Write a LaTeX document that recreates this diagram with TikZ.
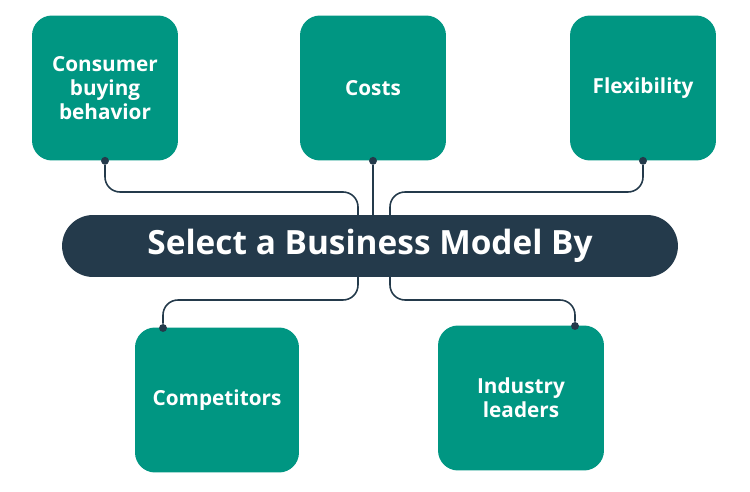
\documentclass[tikz,border=0pt]{standalone}
\usepackage{fontspec}
\setmainfont{Open Sans}
\usetikzlibrary{positioning}
\definecolor{teal1}{HTML}{009682}
\definecolor{navy1}{HTML}{243A4B}

\begin{document}
\begin{tikzpicture}[x=0.02cm,y=-0.02cm,
	box/.style={fill=teal1,rounded corners=0.4cm,minimum width=2.92cm,minimum height=2.9cm,align=center,text=white,font=\bfseries\fontsize{11.8}{13.8}\selectfont},
	link/.style={navy1,line width=0.9pt,rounded corners=0.3cm},
	dot/.style={fill=navy1,circle,inner sep=0pt,minimum size=4.5pt}]
	\useasboundingbox (0,0) rectangle (750,492);
	\node[box] (consumer) at (105,88) {\raisebox{-3pt}{Consumer}\\\raisebox{-3pt}{buying}\\\raisebox{-3pt}{behavior}};
	\node[box] (costs) at (373,88) {Costs};
	\node[box] (flex) at (643,88) {Flexibility};
	\node[box,minimum width=3.28cm] (comp) at (217,400) {Competitors};
	\node[box,minimum width=3.32cm] (ind) at (521,398) {\raisebox{-2pt}{Industry}\\\raisebox{-2pt}{leaders}};
	\node[fill=navy1,rounded corners=0.62cm,minimum width=12.32cm,minimum height=1.24cm,text=white,font=\bfseries\fontsize{19}{22}\selectfont] (title) at (370,246) {\raisebox{-3pt}{Select a Business Model By}};
	% connectors
	\coordinate (t1) at (358,215);
	\coordinate (t3) at (390,215);
	\coordinate (b1) at (358,277);
	\coordinate (b2) at (390,277);
	\node[dot] (d1) at (consumer.south) {};
	\node[dot] (d2) at (costs.south) {};
	\node[dot] (d3) at (flex.south) {};
	\node[dot] (d4) at (163,328) {};
	\node[dot] (d5) at (575,326) {};
	\draw[link] (d1) |- (358,192) -- (t1);
	\draw[link] (d2) -- (d2 |- title.north);
	\draw[link] (d3) |- (390,192) -- (t3);
	\draw[link] (b1) |- (163,300) -- (d4);
	\draw[link] (b2) |- (575,300) -- (d5);
\end{tikzpicture}
\end{document}
